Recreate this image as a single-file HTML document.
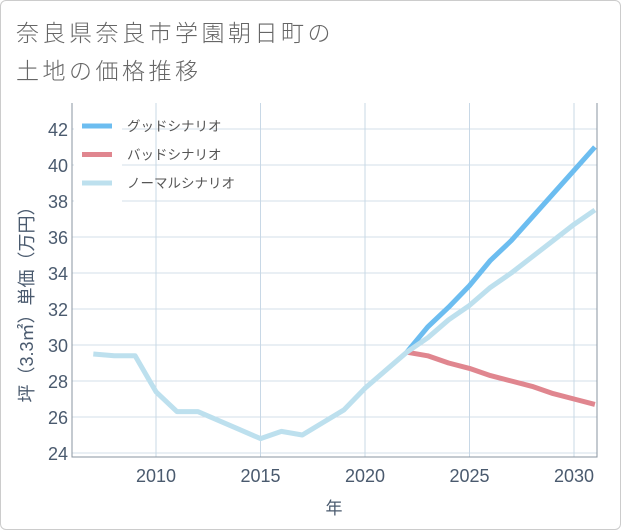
<!DOCTYPE html>
<html><head><meta charset="utf-8"><style>
body{margin:0;background:#fff;}
.card{position:absolute;left:0;top:0;width:619px;height:528px;border:1px solid #ccc;border-radius:6px;background:#fff;}
.title{position:absolute;left:16px;top:14px;font:23px/38px "Liberation Sans","Noto Sans CJK JP",sans-serif;letter-spacing:3.5px;color:#666;font-weight:300;}
svg{position:absolute;left:0;top:0;}
text{font-family:"Liberation Sans","Noto Sans CJK JP",sans-serif;}
</style></head><body>
<div class="card"></div>
<div class="title">奈良県奈良市学園朝日町の<br>土地の価格推移</div>
<svg id="chart" width="621" height="530"></svg>
<script>
const years=[2007,2008,2009,2010,2011,2012,2013,2014,2015,2016,2017,2018,2019,2020,2021,2022,2023,2024,2025,2026,2027,2028,2029,2030,2031];
const normal=[29.5,29.4,29.4,27.4,26.3,26.3,25.8,25.3,24.8,25.2,25.0,25.7,26.4,27.6,28.6,29.6,30.4,31.4,32.2,33.2,34.0,34.9,35.8,36.7,37.5];
const goodYears=[2022,2023,2024,2025,2026,2027,2028,2029,2030,2031];
const good=[29.6,31.0,32.1,33.3,34.7,35.8,37.1,38.4,39.7,41.0];
const bad=[29.6,29.4,29.0,28.7,28.3,28.0,27.7,27.3,27.0,26.7];
const yTicks=[24,26,28,30,32,34,36,38,40,42];
const xTicks=[2010,2015,2020,2025,2030];
const legendLabels=["グッドシナリオ","バッドシナリオ","ノーマルシナリオ"];
const colors=["#6cbdf0","#e0868f","#bde0ee"];
const L=72,R=597,T=103,B=457;
const x=v=>156+(v-2010)*20.9;
const y=v=>453-(v-24)*18;
const NS="http://www.w3.org/2000/svg";
const svg=document.getElementById('chart');
function mk(tag,attrs,parent){const e=document.createElementNS(NS,tag);for(const k in attrs)e.setAttribute(k,attrs[k]);(parent||svg).appendChild(e);return e;}
yTicks.forEach(t=>{
const l=mk('line',{x1:L,x2:R,y1:y(t),y2:y(t),stroke:'#d3dfea','stroke-width':1});


const tx=mk('text',{x:L-4,y:y(t)+7,'text-anchor':'end','font-size':18,fill:'#4a5a6e'});tx.textContent=t;


});
xTicks.forEach(t=>{
const l=mk('line',{x1:x(t),x2:x(t),y1:T,y2:B,stroke:'#c8d8e6','stroke-width':1});


const tx=mk('text',{x:x(t),y:B+25,'text-anchor':'middle','font-size':18,fill:'#4a5a6e'});tx.textContent=t;


});
const ax=mk('path',{d:`M${L} ${T}V${B}H${R}V${T}`,fill:'none',stroke:'#8a95a0','stroke-width':1});


const lb=mk('rect',{x:74,y:112,width:48,height:92,fill:'#fff'});


function line(xs,vs,c,name){const p=mk('polyline',{points:xs.map((v,i)=>x(v)+','+y(vs[i])).join(' '),fill:'none',stroke:c,'stroke-width':5,'stroke-linejoin':'round'});

}
line(goodYears,bad,colors[1],'bad-scenario-line');
line(goodYears,good,colors[0],'good-scenario-line');
line(years,normal,colors[2],'normal-scenario-line');
legendLabels.forEach((s,i)=>{
const yy=126+i*28.5;
const l=mk('line',{x1:82,x2:112,y1:yy,y2:yy,stroke:colors[i],'stroke-width':5});


const tx=mk('text',{x:127,y:yy+5,'font-size':13.5,fill:'#555'});tx.textContent=s;


});
const xt=mk('text',{x:334,y:514,'text-anchor':'middle','font-size':17,fill:'#4a5a6e'});xt.textContent='年';


const yt=mk('text',{x:0,y:0,'text-anchor':'middle','font-size':18,fill:'#4a5a6e',transform:'translate(33,300) rotate(-90)'});yt.textContent='坪（3.3㎡）単価（万円）';


</script>
</body></html>
